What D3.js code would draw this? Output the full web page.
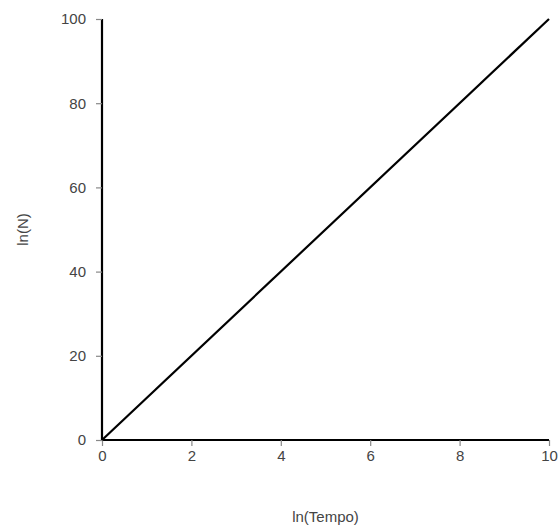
<!DOCTYPE html>
<html>
<head>
<meta charset="utf-8">
<script src="https://cdn.jsdelivr.net/npm/d3@7"></script>
<style>
  body { margin: 0; background: #fff; }
  text { font-family: "Liberation Sans", Arial, sans-serif; }
</style>
</head>
<body>
<div id="chart"></div>
<script>
const lnTempo = [0, 10];
const lnN = [0, 100];
const xTicks = [0, 2, 4, 6, 8, 10];
const yTicks = [0, 20, 40, 60, 80, 100];

const width = 560, height = 529;
const margin = {top: 19, right: 11, bottom: 89, left: 102};
const innerWidth = width - margin.left - margin.right;
const innerHeight = height - margin.top - margin.bottom;

const svg = d3.select("#chart")
              .append("svg")
              .attr("width", width)
              .attr("height", height);

const inner = svg.append("g")
                 .attr("transform", `translate(${margin.left}, ${margin.top})`);

const xScale = d3.scaleLinear().domain([0, 10]).range([0, innerWidth]);
const yScale = d3.scaleLinear().domain([0, 100]).range([innerHeight, 0]);

const xAxis = inner.append("g")
                   .attr("transform", `translate(0, ${innerHeight})`)
                   .call(d3.axisBottom(xScale).tickValues(xTicks).tickSize(6).tickPadding(4));

const yAxis = inner.append("g")
                   .call(d3.axisLeft(yScale).tickValues(yTicks).tickSize(6).tickPadding(10));

[xAxis, yAxis].forEach(ax => {
    ax.select(".domain").attr("stroke", "#000").attr("stroke-width", 2.2);
    ax.selectAll(".tick line").attr("stroke", "#888").attr("stroke-width", 1.2);
    ax.selectAll(".tick text")
      .attr("fill", "#444")
      .style("font-size", "15px")
      .style("font-family", "'Liberation Sans', Arial, sans-serif");
});
// keep the axis domain lines without end caps
xAxis.select(".domain").attr("d", `M0,0H${innerWidth}`);
yAxis.select(".domain").attr("d", `M0,0V${innerHeight}`);

const line = d3.line()
               .x((d, i) => xScale(lnTempo[i]))
               .y(d => yScale(d));

inner.append("path")
     .datum(lnN)
     .attr("d", line)
     .attr("fill", "none")
     .attr("stroke", "#000")
     .attr("stroke-width", 2.2);

svg.append("text")
   .attr("x", margin.left + innerWidth / 2)
   .attr("y", 522)
   .attr("text-anchor", "middle")
   .attr("fill", "#444")
   .style("font-size", "15px")
   .text("ln(Tempo)");

svg.append("text")
   .attr("transform", `translate(28, ${margin.top + innerHeight / 2}) rotate(-90)`)
   .attr("text-anchor", "middle")
   .attr("fill", "#444")
   .style("font-size", "15px")
   .text("ln(N)");
</script>
</body>
</html>
